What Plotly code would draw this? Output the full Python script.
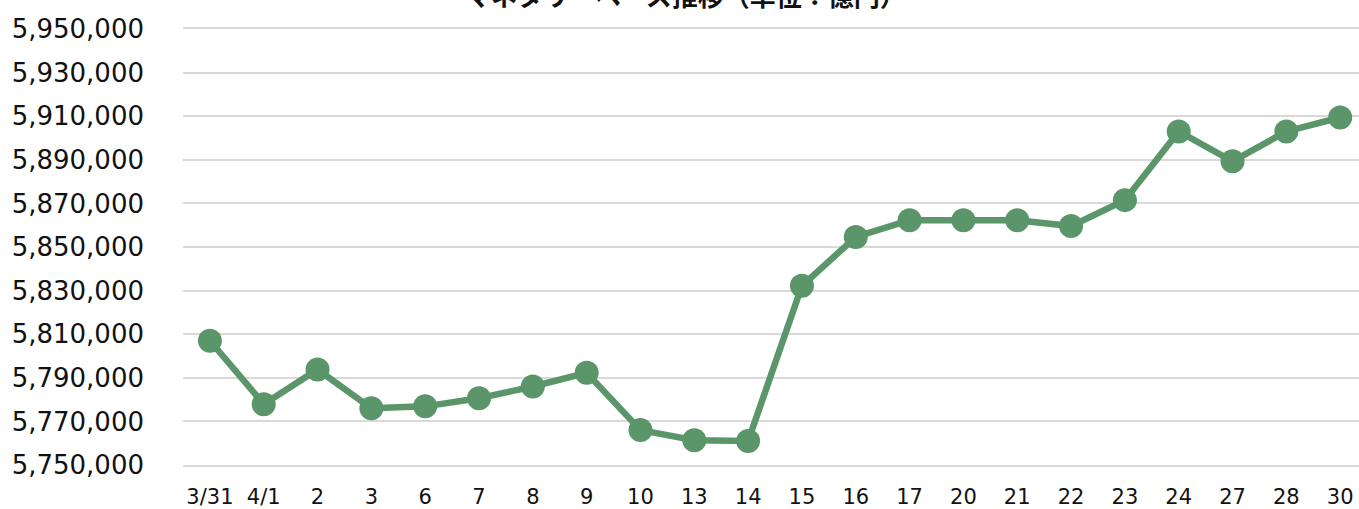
import plotly.graph_objects as go

categories = ["3/31", "4/1", "2", "3", "6", "7", "8", "9", "10", "13", "14", "15",
              "16", "17", "20", "21", "22", "23", "24", "27", "28", "30"]
values = [5807000, 5777900, 5793800, 5776000, 5776900, 5780600, 5786000, 5792300,
          5766000, 5761400, 5761000, 5832200, 5854600, 5862300, 5862300, 5862300,
          5859600, 5871500, 5903000, 5889300, 5903000, 5909400]
y_ticks = list(range(5750000, 5950001, 20000))
title_text = "マネタリーベース推移（単位：億円）"

green = "#5A9669"
grid = "#D9D9D9"

fig = go.Figure()
fig.add_trace(go.Scatter(
    x=list(range(len(categories))), y=values, mode="lines+markers",
    line=dict(color=green, width=6.5),
    marker=dict(color=green, size=24),
    hoverinfo="skip",
))

fig.update_layout(
    width=1359, height=509,
    margin=dict(l=183, r=0, t=29, b=42),
    paper_bgcolor="white", plot_bgcolor="white",
    showlegend=False,
    font=dict(family="DejaVu Sans", color="#111111"),
    xaxis=dict(
        range=[-0.5, 21.35],
        tickmode="array", tickvals=list(range(len(categories))), ticktext=categories,
        tickfont=dict(size=21, family="DejaVu Sans"),
        showgrid=False, zeroline=False,
        showline=True, mirror=True, linecolor=grid, linewidth=2,
        ticks="", ticklabelstandoff=12,
    ),
    yaxis=dict(
        range=[5750000, 5950000],
        tickmode="array", tickvals=y_ticks,
        tickformat=",d",
        tickfont=dict(size=26, family="DejaVu Sans"),
        showgrid=True, gridcolor=grid, gridwidth=2,
        zeroline=False, showline=False,
        ticks="", ticklabelstandoff=38,
    ),
    annotations=[dict(
        text="<b>" + title_text + "</b>",
        xref="paper", yref="paper", x=0.427, y=1, xanchor="center", yanchor="bottom",
        yshift=14, showarrow=False,
        font=dict(size=26, family="Noto Sans CJK JP", color="#111111"),
    )],
)

fig.write_html("out.html", config={"displayModeBar": False},
               post_script="document.body.style.margin='0';")
